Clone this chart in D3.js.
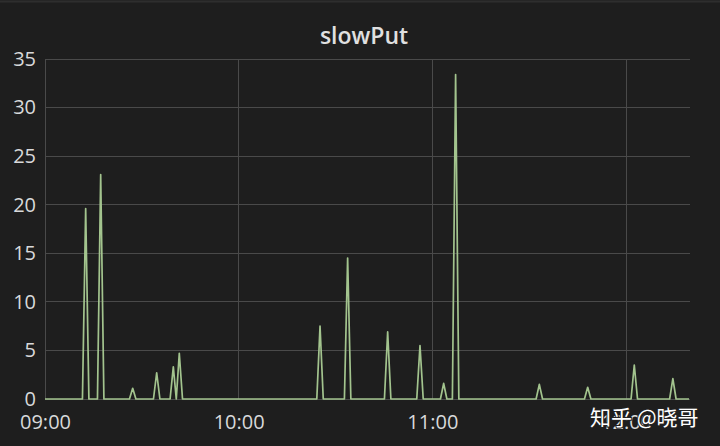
<!DOCTYPE html>
<html><head><meta charset="utf-8">
<script src="https://cdn.jsdelivr.net/npm/d3@7/dist/d3.min.js"></script>
<style>
html,body{margin:0;padding:0;background:#1e1e1e;}
svg{display:block;}
</style></head>
<body><svg id="c" width="720" height="446"></svg>
<script>
const title = "slowPut";
const times = ["09:00:00","09:11:36","09:12:36","09:13:36","09:16:15","09:17:15","09:18:15",
  "09:26:10","09:27:10","09:28:10","09:33:36","09:34:36","09:35:36","09:38:45","09:39:45",
  "09:40:40","09:41:36","09:42:36","10:24:12","10:25:12","10:26:12","10:32:45","10:33:45",
  "10:34:45","10:45:09","10:46:09","10:47:09","10:55:10","10:56:10","10:57:10","11:02:30",
  "11:03:30","11:04:30","11:06:12","11:07:12","11:08:12","11:32:08","11:33:08","11:34:08",
  "11:47:07","11:48:07","11:49:07","12:01:33","12:02:33","12:03:33","12:13:30","12:14:30",
  "12:15:30","12:19:30"];
const values = [0,0,19.6,0,0,23.1,0,
  0,1.1,0,0,2.7,0,0,3.3,
  0,4.7,0,0,7.5,0,0,14.5,
  0,0,6.9,0,0,5.5,0,0,
  1.6,0,0,33.4,0,0,1.5,0,
  0,1.2,0,0,3.5,0,0,2.1,
  0,0];
const yTicks = [0,5,10,15,20,25,30,35];
const xTickLabels = ["09:00","10:00","11:00","12:00"];
const watermark = "知乎 @晓哥";

const day = "2018-01-01T";
const parse = s => new Date(day + s);
const data = times.map((t,i)=>({t:parse(t), v:values[i]}));

const svg = d3.select("#c");
const W=720,H=446;
svg.append("rect").attr("width",W).attr("height",H).attr("fill","#1e1e1e");
svg.append("line").attr("x1",0).attr("x2",W).attr("y1",1.5).attr("y2",1.5).attr("stroke","#2e2e2e").attr("stroke-width",2);

const x = d3.scaleTime().domain([parse("09:00:00"), parse("12:19:30")]).range([45,689]);
const y = d3.scaleLinear().domain([0,35]).range([399,59]);

const font = "'Open Sans', 'Noto Sans', sans-serif";
const grid = svg.append("g");
grid.selectAll("line.h").data(yTicks).join("line").attr("class","h")
  .attr("x1",45).attr("x2",690).attr("y1",d=>y(d)).attr("y2",d=>y(d))
  .attr("stroke","#4a4a4a").attr("stroke-width",1).attr("shape-rendering","crispEdges");
const xTickDates = xTickLabels.map(s=>parse(s+":00"));
grid.selectAll("line.v").data(xTickDates).join("line").attr("class","v")
  .attr("x1",d=>x(d)).attr("x2",d=>x(d)).attr("y1",59).attr("y2",399)
  .attr("stroke","#4a4a4a").attr("stroke-width",1).attr("shape-rendering","crispEdges");

// axes
const yAxis = d3.axisLeft(y).tickValues(yTicks).tickSize(0).tickPadding(9);
const ga = svg.append("g").attr("transform","translate(45,0)").call(yAxis);
ga.select(".domain").remove();
ga.selectAll("text").attr("fill","#d8d9da").attr("font-size",20).attr("font-family",font);

const xAxis = d3.axisBottom(x).tickValues(xTickDates).tickFormat(d3.timeFormat("%H:%M")).tickSize(0).tickPadding(16);
const gx = svg.append("g").attr("transform","translate(0,399)").call(xAxis);
gx.select(".domain").remove();
gx.selectAll("text").attr("fill","#d8d9da").attr("font-size",20).attr("font-family",font);

// line
const line = d3.line().x(d=>x(d.t)).y(d=>y(d.v));
svg.append("path").datum(data).attr("d",line).attr("fill","none")
  .attr("stroke","#a3c48e").attr("stroke-width",1.7).attr("stroke-linejoin","round");

// title
svg.append("text").attr("x",364).attr("y",38).attr("text-anchor","middle").attr("dominant-baseline","middle")
  .attr("fill","#e0e0e0").attr("font-size",23).attr("font-weight",600).attr("font-family",font).text(title);

// watermark
svg.append("text").attr("x",590).attr("y",425)
  .attr("fill","#ffffff").attr("font-size",21).attr("font-family","'Noto Sans CJK SC', sans-serif")
  .attr("stroke","#222").attr("stroke-width",2).attr("paint-order","stroke").text(watermark);
</script></body></html>
